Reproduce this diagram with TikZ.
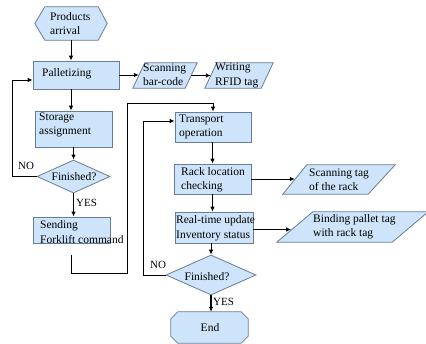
\documentclass[tikz,border=0pt]{standalone}
\usepackage{fontspec}
\setmainfont{Liberation Serif}
\usetikzlibrary{arrows.meta,shapes.geometric,calc}
\definecolor{boxfill}{RGB}{205,228,250}
\definecolor{boxline}{RGB}{105,125,150}
\tikzset{
  shp/.style={draw=boxline,fill=boxfill,line width=0.8pt},
  rbox/.style={shp,rectangle,inner sep=0pt},
  dia/.style={shp,diamond,inner sep=0pt},
  ghost/.style={rectangle,inner sep=0pt},
  txt/.style={inner sep=0pt,align=left,font=\fontsize{11.5}{14.5}\selectfont},
  lbl/.style={inner sep=0pt,font=\fontsize{11}{13}\selectfont},
  arr/.style={draw,line width=0.9pt,-{Latex[length=5pt,width=4.5pt]}},
  tarr/.style={arr,line width=1.5pt},
  ln/.style={draw,line width=0.9pt}
}
\begin{document}
\begin{tikzpicture}[x=1pt,y=-1pt]
\useasboundingbox (0,0) rectangle (426,344);
\fill[white] (0,0) rectangle (426,344);

% hexagon: Products arrival
\node[ghost,minimum width=72pt,minimum height=33pt] (arrival) at (71,23.5) {};
\draw[shp] (arrival.west) -- ([xshift=10pt]arrival.north west) -- ([xshift=-9pt]arrival.north east)
  -- (arrival.east) -- ([xshift=-9pt]arrival.south east) -- ([xshift=10pt]arrival.south west) -- cycle;
\node[txt,anchor=west] (tarrival) at (50,23.5) {Products\\arrival};

% left column
\node[rbox,minimum width=86pt,minimum height=28pt] (pallet) at (76,75) {};
\node[txt,anchor=west] (tpallet) at (42,74) {Palletizing};
\node[rbox,minimum width=77pt,minimum height=36pt] (storage) at (73.5,129) {};
\node[txt,anchor=west] (tstorage) at (39,125) {Storage\\assignment};
\node[dia,minimum width=73pt,minimum height=33pt] (d1) at (73.5,176.5) {};
\node[txt] (td1) at (74,177) {Finished?};
\node[rbox,minimum width=77pt,minimum height=26pt] (sending) at (71.5,230) {};
\node[txt,anchor=west] (tsending) at (40,232) {Sending\\Forklift command};

% parallelograms top
\node[ghost,minimum width=64pt,minimum height=25pt] (barcode) at (165,75.5) {};
\draw[shp] (barcode.south west) -- ([xshift=-12pt]barcode.south east) -- (barcode.north east)
  -- ([xshift=12pt]barcode.north west) -- cycle;
\node[txt,anchor=west] (tbarcode) at (143,75) {Scanning\\bar-code};
\node[ghost,minimum width=68pt,minimum height=25pt] (rfid) at (239,75.5) {};
\draw[shp] (rfid.south west) -- ([xshift=-12pt]rfid.south east) -- (rfid.north east)
  -- ([xshift=12pt]rfid.north west) -- cycle;
\node[txt,anchor=west] (trfid) at (215,75.5) {Writing\\RFID tag};

% right column
\node[rbox,minimum width=76pt,minimum height=30pt] (transport) at (213,127) {};
\node[txt,anchor=west] (ttransport) at (179,127) {Transport\\operation};
\node[rbox,minimum width=77pt,minimum height=30pt] (rack) at (212.5,179) {};
\node[txt,anchor=west] (track) at (181,180) {Rack location\\checking};
\node[rbox,minimum width=78pt,minimum height=31pt] (rtu) at (214,227.5) {};
\node[txt,anchor=west] (trtu) at (176,228.5) {Real-time update\\Inventory status};
\node[dia,minimum width=90pt,minimum height=40pt] (d2) at (211,275) {};
\node[txt] (td2) at (207,277) {Finished?};
\node[ghost,minimum width=77pt,minimum height=31pt] (endn) at (209.5,327.5) {};
\draw[shp] ([yshift=-7pt]endn.north west) -- ([xshift=7pt]endn.north west) -- ([xshift=-7pt]endn.north east)
  -- ([yshift=-7pt]endn.north east) -- ([yshift=7pt]endn.south east) -- ([xshift=-7pt]endn.south east)
  -- ([xshift=7pt]endn.south west) -- ([yshift=7pt]endn.south west) -- cycle;
\node[txt] (tend) at (210,328) {End};

% side parallelograms
\node[ghost,minimum width=112pt,minimum height=29pt] (scantag) at (339,179.5) {};
\draw[shp] (scantag.south west) -- ([xshift=-27pt]scantag.south east) -- (scantag.north east)
  -- ([xshift=24pt]scantag.north west) -- cycle;
\node[txt,anchor=west] (tscantag) at (309,180) {Scanning tag\\of the rack};
\node[ghost,minimum width=151pt,minimum height=30pt] (binding) at (352.5,227) {};
\draw[shp] (binding.south west) -- ([xshift=-36pt]binding.south east) -- (binding.north east)
  -- ([xshift=36pt]binding.north west) -- cycle;
\node[txt,anchor=west] (tbinding) at (313,227) {Binding pallet tag\\with rack tag};

% helper coordinates
\coordinate (barcodeL) at ($(barcode.south west)!0.5!([xshift=12pt]barcode.north west)$);
\coordinate (barcodeR) at ($([xshift=-12pt]barcode.south east)!0.5!(barcode.north east)$);
\coordinate (rfidL) at ($(rfid.south west)!0.5!([xshift=12pt]rfid.north west)$);
\coordinate (scantagL) at ($(scantag.south west)!0.5!([xshift=24pt]scantag.north west)$);
\coordinate (bindingL) at ($(binding.south west)!0.4!([xshift=36pt]binding.north west)$);
\coordinate (c1) at (127,273);
\coordinate (c2) at (127,103);
\coordinate (c3) at (143,200);
\coordinate (c4) at (12,120);

% connectors
\draw[arr] (arrival.south -| 71,0) -- (pallet.north -| 71,0);
\draw[arr] (pallet.south -| 71,0) -- (storage.north -| 71,0);
\draw[tarr] (storage.south -| d1.north) -- (d1.north);
\draw[ln] (d1.west) -| (c4);
\draw[arr] (c4) |- ([yshift=-5pt]pallet.west);
\draw[tarr] (d1.south) -- (sending.north -| d1.south);
\draw[ln,shorten <=12pt] (sending.south) |- (c1) -- (c2);
\draw[arr] (c2) -| (transport.north);
\draw[arr] (pallet.east) -- (pallet.east -| barcodeL);
\draw[arr] (barcodeR) -- (rfidL);
\draw[arr] (transport.south -| rack.north) -- (rack.north);
\draw[arr] (rack.south) -- (rack.south |- rtu.north);
\draw[arr] (rtu.south -| d2.north) -- (d2.north);
\draw[ln] (d2.west) -| (c3);
\draw[arr] (c3) |- ([yshift=6pt]transport.west);
\draw[tarr] (d2.south) -- (endn.north -| d2.south);
\draw[arr] (rack.east) -- (rack.east -| scantagL);
\draw[arr] ([yshift=-2pt]rtu.east) -- ([yshift=-2pt]rtu.east -| bindingL);

% labels
\node[lbl,anchor=west] (no1) at (18,166) {NO};
\node[lbl,anchor=west] (yes1) at (76,203) {YES};
\node[lbl,anchor=west] (no2) at (150,265) {NO};
\node[lbl,anchor=west] (yes2) at (213,302) {YES};
\end{tikzpicture}
\end{document}
